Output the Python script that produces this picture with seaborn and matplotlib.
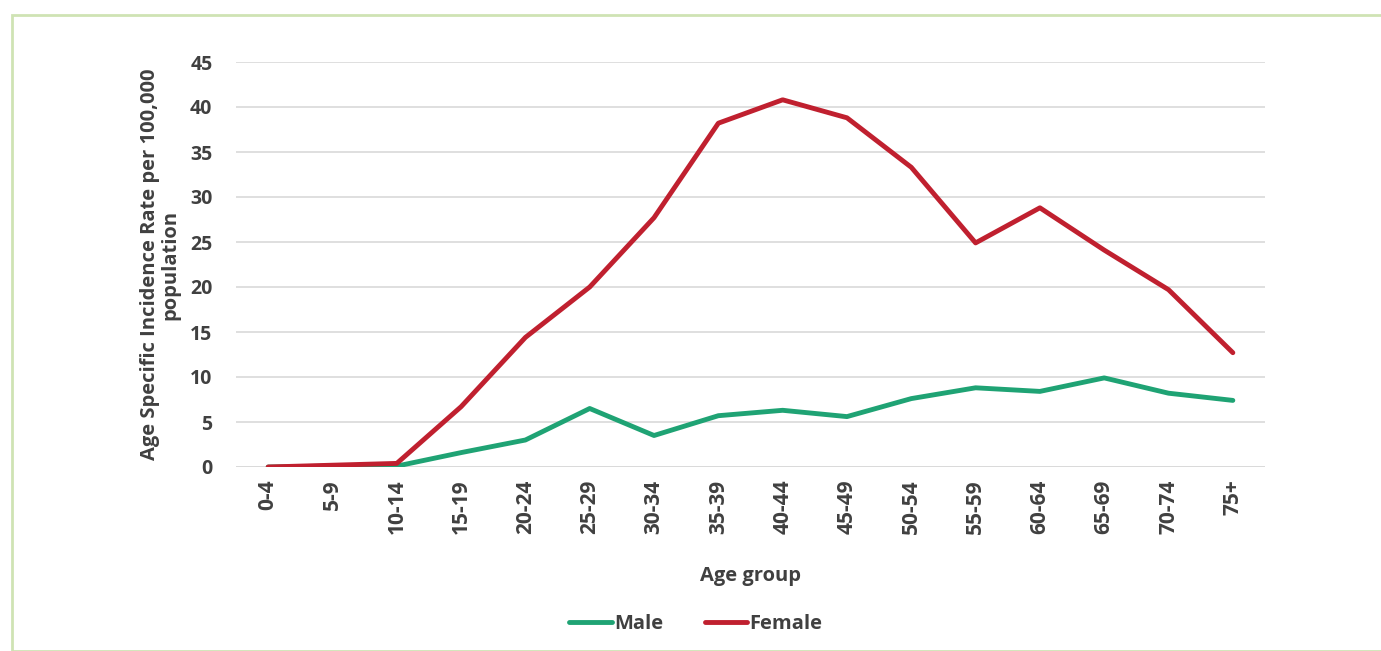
import matplotlib
matplotlib.use('Agg')
import matplotlib.pyplot as plt
import seaborn as sns
import pandas as pd
from matplotlib.patches import Rectangle

age_groups = ['0-4', '5-9', '10-14', '15-19', '20-24', '25-29', '30-34', '35-39',
              '40-44', '45-49', '50-54', '55-59', '60-64', '65-69', '70-74', '75+']
male = [0.0, 0.1, 0.1, 1.6, 3.0, 6.5, 3.5, 5.7, 6.3, 5.6, 7.6, 8.8, 8.4, 9.9, 8.2, 7.4]
female = [0.0, 0.2, 0.4, 6.7, 14.4, 20.0, 27.7, 38.2, 40.8, 38.8, 33.3, 24.9, 28.8, 24.1, 19.7, 12.7]

colors = {'Male': '#1fa374', 'Female': '#c0202f'}

df = pd.DataFrame({
    'Age group': age_groups * 2,
    'rate': male + female,
    'sex': ['Male'] * len(male) + ['Female'] * len(female),
})

sns.set_style('white')
plt.rcParams['font.family'] = ['Open Sans', 'DejaVu Sans']
text_color = '#404040'

fig = plt.figure(figsize=(13.81, 6.51), dpi=100)
fig.patches.append(Rectangle((12 / 1381, 0), 1.0, 1 - 15 / 651, transform=fig.transFigure,
                             fill=False, edgecolor='#cfe3b4', linewidth=2))
ax = fig.add_axes([236 / 1381, 1 - 467 / 651, (1265 - 236) / 1381, (467 - 62) / 651])

sns.lineplot(data=df, x='Age group', y='rate', hue='sex', palette=colors,
             linewidth=3.5, sort=False, ax=ax)

ax.set_ylim(0, 45)
ax.set_xlim(-0.5, 15.5)
ax.set_yticks(range(0, 46, 5))
ax.yaxis.grid(True, color='#d9d9d9', linewidth=1.2)
ax.set_axisbelow(True)
sns.despine(ax=ax, left=True, bottom=True, top=True, right=True)
ax.axhline(0, color='#d9d9d9', linewidth=1.2, zorder=0)
ax.tick_params(axis='both', length=0, colors=text_color)
ax.tick_params(axis='y', pad=17, labelsize=14)
ax.tick_params(axis='x', pad=9, labelsize=15)
for lbl in ax.get_xticklabels():
    lbl.set_rotation(90)
    lbl.set_fontweight('bold')
for lbl in ax.get_yticklabels():
    lbl.set_fontweight('bold')

ax.set_xlabel('Age group', fontsize=14.5, fontweight='bold', color=text_color, labelpad=23)
ax.set_ylabel('Age Specific Incidence Rate per 100,000\npopulation', fontsize=14.5,
              fontweight='bold', color=text_color, labelpad=7, linespacing=1.0)

leg = ax.legend(loc='center', bbox_to_anchor=(0.447, -0.387), ncol=2, frameon=False,
                fontsize=14.5, handlelength=2.1, handletextpad=0.1, columnspacing=2.1)
for t in leg.get_texts():
    t.set_fontweight('bold')
    t.set_color(text_color)

fig.savefig('out.png', dpi=100, facecolor='white')
